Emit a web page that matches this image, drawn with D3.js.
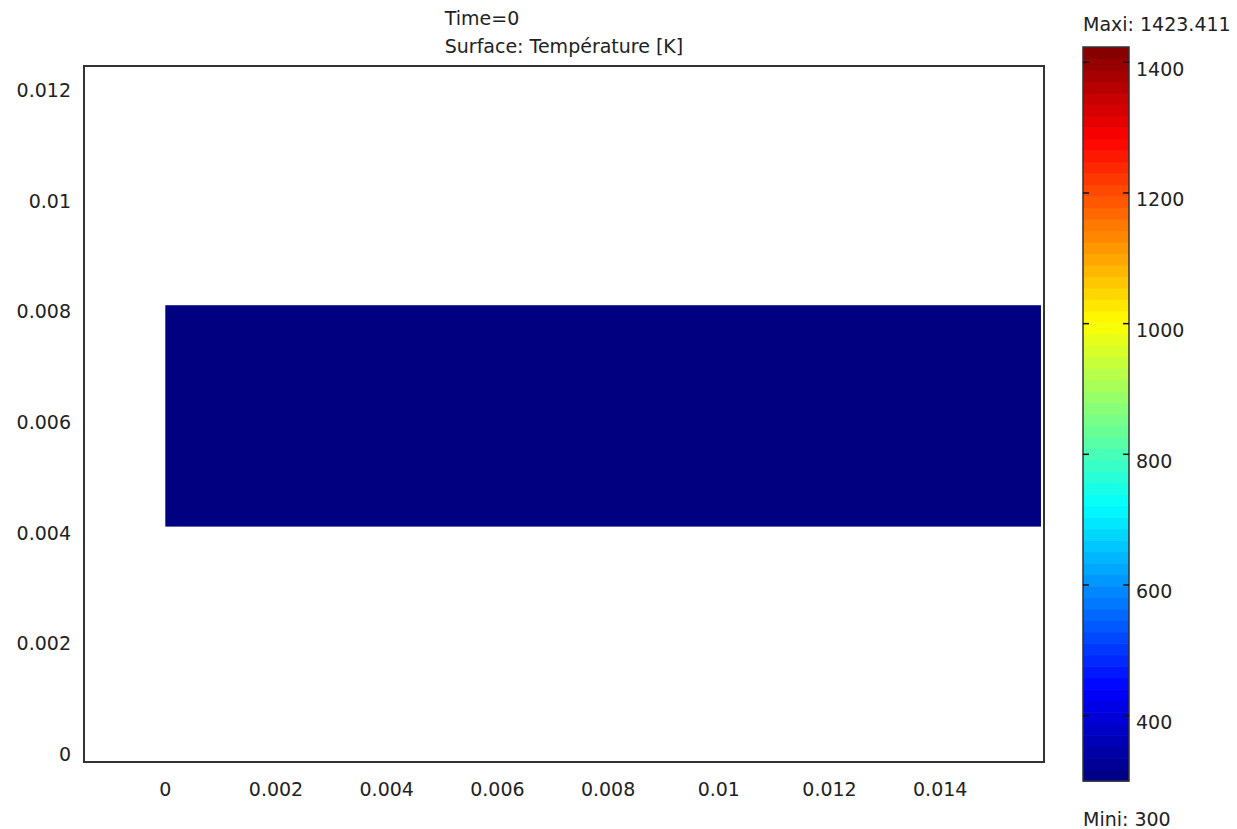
<!DOCTYPE html>
<html>
<head>
<meta charset="utf-8">
<script src="https://cdn.jsdelivr.net/npm/d3@7"></script>
<style>
  html, body { margin: 0; padding: 0; background: #fff; }
  svg text { font-family: "DejaVu Sans", Verdana, sans-serif; font-size: 19px; fill: #222; }
</style>
</head>
<body>
<svg id="chart" width="1237" height="829"></svg>
<script>
// ---- data ----
const titleLines = ["Time=0", "Surface: Température [K]"];
const xTickValues = [0, 0.002, 0.004, 0.006, 0.008, 0.01, 0.012, 0.014];
const xTickLabels = ["0", "0.002", "0.004", "0.006", "0.008", "0.01", "0.012", "0.014"];
const yTickValues = [0, 0.002, 0.004, 0.006, 0.008, 0.01, 0.012];
const yTickLabels = ["0", "0.002", "0.004", "0.006", "0.008", "0.01", "0.012"];
const xDomain = [-0.001469, 0.015875];
const yDomain = [-0.000253, 0.012322];
// surface patch (domain) : x extent, y extent, temperature
const patchX = [0, 0.01582];
const patchY = [0.004, 0.008];
const patchTemp = [300];
const tempMin = 300;
const tempMax = 1423.411;
const cbTickValues = [400, 600, 800, 1000, 1200, 1400];
const cbTickLabels = ["400", "600", "800", "1000", "1200", "1400"];
const nBands = 64;

// ---- layout ----
const svg = d3.select("#chart");
const plot = { left: 84, right: 1044, top: 66, bottom: 762 };
const cb = { left: 1083, right: 1129, top: 47, bottom: 781 };

const x = d3.scaleLinear().domain(xDomain).range([plot.left, plot.right]);
const y = d3.scaleLinear().domain(yDomain).range([plot.bottom, plot.top]);
const c = d3.scaleLinear().domain([tempMin, tempMax]).range([cb.bottom, cb.top]);

// jet colormap
const jetStops = [
  [0.0, [0, 0, 0.5]], [0.125, [0, 0, 1]], [0.375, [0, 1, 1]],
  [0.625, [1, 1, 0]], [0.875, [1, 0, 0]], [1.0, [0.5, 0, 0]]
];
function jet(t) {
  t = Math.max(0, Math.min(1, t));
  for (let i = 1; i < jetStops.length; i++) {
    if (t <= jetStops[i][0]) {
      const [t0, c0] = jetStops[i - 1], [t1, c1] = jetStops[i];
      const f = (t - t0) / (t1 - t0);
      const rgb = c0.map((v, k) => Math.round(255 * (v + (c1[k] - v) * f)));
      return `rgb(${rgb[0]},${rgb[1]},${rgb[2]})`;
    }
  }
  return "rgb(128,0,0)";
}
const color = v => {
  const t = (v - tempMin) / (tempMax - tempMin);
  const idx = Math.min(nBands - 1, Math.floor(t * nBands));
  return jet((idx + 0.5) / nBands);
};
const colorLow = v => jet((v - tempMin) / (tempMax - tempMin));

// ---- surface patch ----
svg.append("rect")
  .attr("x", x(patchX[0]))
  .attr("y", y(patchY[1]))
  .attr("width", x(patchX[1]) - x(patchX[0]))
  .attr("height", y(patchY[0]) - y(patchY[1]))
  .attr("fill", colorLow(patchTemp[0]));

// ---- frame ----
svg.append("rect")
  .attr("x", plot.left).attr("y", plot.top)
  .attr("width", plot.right - plot.left).attr("height", plot.bottom - plot.top)
  .attr("fill", "none").attr("stroke", "#333").attr("stroke-width", 2);

// ---- axes tick labels ----
svg.append("g").selectAll("text").data(xTickValues).join("text")
  .attr("x", d => x(d)).attr("y", 796)
  .attr("text-anchor", "middle")
  .text((d, i) => xTickLabels[i]);

svg.append("g").selectAll("text").data(yTickValues).join("text")
  .attr("x", 71).attr("y", d => y(d) + 13)
  .attr("text-anchor", "end")
  .text((d, i) => yTickLabels[i]);

// ---- title ----
const title = svg.append("g");
const tl = title.selectAll("text").data(titleLines).join("text")
  .attr("y", (d, i) => 25 + i * 28)
  .text(d => d);
const maxW = d3.max(tl.nodes(), n => n.getComputedTextLength());
tl.attr("x", (plot.left + plot.right) / 2 - maxW / 2);

// ---- colorbar ----
const bandVals = d3.range(nBands).map(i => tempMin + (i / nBands) * (tempMax - tempMin));
const bandH = (tempMax - tempMin) / nBands;
svg.append("g").selectAll("rect").data(bandVals).join("rect")
  .attr("x", cb.left)
  .attr("y", d => c(d + bandH))
  .attr("width", cb.right - cb.left)
  .attr("height", d => c(d) - c(d + bandH) + 0.6)
  .attr("fill", d => jet((d - tempMin + bandH / 2) / (tempMax - tempMin)));

svg.append("rect")
  .attr("x", cb.left).attr("y", cb.top)
  .attr("width", cb.right - cb.left).attr("height", cb.bottom - cb.top)
  .attr("fill", "none").attr("stroke", "#333").attr("stroke-width", 1.5);

const cbAxis = svg.append("g");
cbTickValues.forEach((v, i) => {
  cbAxis.append("line").attr("x1", cb.left).attr("x2", cb.left + 6)
    .attr("y1", c(v)).attr("y2", c(v)).attr("stroke", "#111").attr("stroke-width", 1.5);
  cbAxis.append("line").attr("x1", cb.right - 6).attr("x2", cb.right)
    .attr("y1", c(v)).attr("y2", c(v)).attr("stroke", "#111").attr("stroke-width", 1.5);
  cbAxis.append("text").attr("x", 1136).attr("y", c(v) + 13.5).text(cbTickLabels[i]);
});

svg.append("text").attr("x", 1083).attr("y", 31).text("Maxi: " + tempMax);
svg.append("text").attr("x", 1083).attr("y", 826).text("Mini: " + tempMin);
</script>
</body>
</html>
